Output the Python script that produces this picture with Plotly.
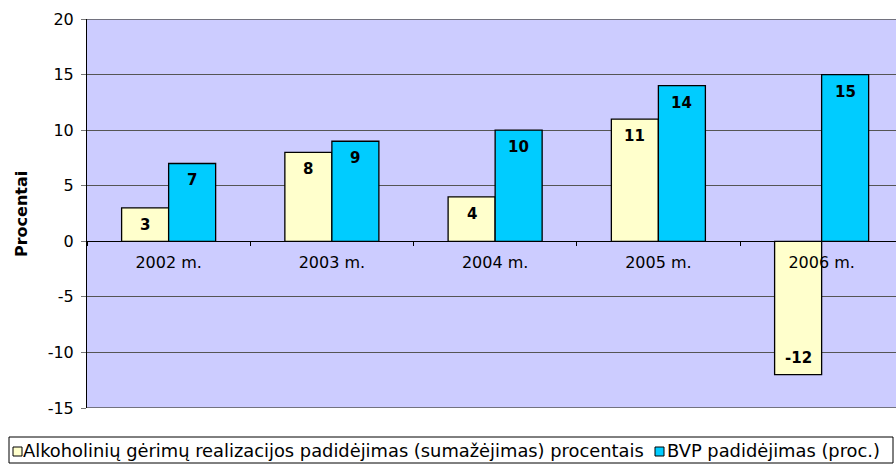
import plotly.graph_objects as go

categories = ["2002 m.", "2003 m.", "2004 m.", "2005 m.", "2006 m."]
alko_values = [3, 8, 4, 11, -12]
bvp_values = [7, 9, 10, 14, 15]
alko_name = "Alkoholinių gėrimų realizacijos padidėjimas (sumažėjimas) procentais"
bvp_name = "BVP padidėjimas (proc.)"
y_ticks = [-15, -10, -5, 0, 5, 10, 15, 20]
y_tick_labels = ["-15", "-10", "-5", "0", "5", "10", "15", "20"]
y_title = "Procentai"

FONT = "DejaVu Sans, sans-serif"
ALKO_COLOR = "#FFFFCC"
BVP_COLOR = "#00CCFF"
GRID_COLOR = "#555555"
y_min, y_max = -15, 20
bargap = 0.424

# figure geometry (pixels)
W_FIG, H_FIG = 896, 464
L, T, R, B = 87, 19, 896, 408
PW, PH = R - L, B - T


def px_x(p):
    return (p - L) / PW


def px_y(p):
    return (B - p) / PH


fig = go.Figure()
for vals, name, color in [(alko_values, alko_name, ALKO_COLOR), (bvp_values, bvp_name, BVP_COLOR)]:
    fig.add_trace(go.Bar(
        x=categories, y=vals, name=name,
        marker=dict(color=color, line=dict(color="#000000", width=1.3)),
        showlegend=False,
    ))

# value labels inside bars, near the bar end
half = (1 - bargap) / 4
for offs, vals in [(-half, alko_values), (half, bvp_values)]:
    for i, v in enumerate(vals):
        fig.add_annotation(
            x=i + offs, y=v, xref="x", yref="y", text=f"<b>{v}</b>", showarrow=False,
            yshift=-17 if v >= 0 else 17,
            font=dict(family=FONT, size=15, color="#000000"),
        )

# plot-area top and bottom edge lines (gridlines at the range ends)
for yv in (y_min, y_max):
    fig.add_shape(type="line", xref="paper", yref="y", x0=0, x1=1, y0=yv, y1=yv,
                  line=dict(color=GRID_COLOR, width=1.5), layer="below")

# manual legend (box, swatches, texts)
fig.add_shape(type="rect", xref="paper", yref="paper",
              x0=px_x(9), x1=px_x(893), y0=px_y(437), y1=px_y(463),
              line=dict(color="#000000", width=1), fillcolor="#FFFFFF", layer="above")
for sx, color, tx, name in [(13, ALKO_COLOR, 22, alko_name), (655, BVP_COLOR, 666, bvp_name)]:
    fig.add_shape(type="rect", xref="paper", yref="paper",
                  x0=px_x(sx), x1=px_x(sx + 9), y0=px_y(447), y1=px_y(456),
                  line=dict(color="#000000", width=1), fillcolor=color, layer="above")
    fig.add_annotation(x=px_x(tx), y=px_y(450.5), xref="paper", yref="paper",
                       xanchor="left", yanchor="middle", text=name, showarrow=False,
                       borderpad=0, font=dict(family=FONT, size=17.85, color="#000000"))

# y-axis title
fig.add_annotation(x=px_x(22), y=px_y(214), xref="paper", yref="paper", text=f"<b>{y_title}</b>",
                   textangle=-90, showarrow=False, xanchor="center", yanchor="middle",
                   font=dict(family=FONT, size=16, color="#000000"))

fig.update_layout(
    width=W_FIG, height=H_FIG,
    margin=dict(l=L, r=W_FIG - R, t=T, b=H_FIG - B, autoexpand=False),
    paper_bgcolor="#FFFFFF",
    plot_bgcolor="#CCCCFF",
    barmode="group", bargap=bargap, bargroupgap=0,
    font=dict(family=FONT, size=16, color="#000000"),
    showlegend=False,
    xaxis=dict(
        type="category", range=[-0.5, -0.5 + PW / 163.25],
        anchor="free", position=(0 - y_min) / (y_max - y_min),
        showline=True, linecolor="#000000", linewidth=1,
        ticks="outside", tickson="boundaries", ticklen=4, tickcolor="#000000",
        showgrid=False, ticklabelstandoff=7, automargin=False,
        tickfont=dict(family=FONT, size=16, color="#000000"),
    ),
    yaxis=dict(
        range=[y_min, y_max], tickvals=y_ticks, ticktext=y_tick_labels,
        showgrid=True, gridcolor=GRID_COLOR, gridwidth=1,
        zeroline=True, zerolinecolor="#000000", zerolinewidth=1,
        showline=True, linecolor="#000000", linewidth=1,
        ticks="outside", ticklen=5, tickcolor="#777777",
        ticklabelstandoff=4, automargin=False,
        tickfont=dict(family=FONT, size=16, color="#000000"),
    ),
)

fig.write_html("out.html", config={"displayModeBar": False},
               post_script="document.body.style.margin='0px';")
